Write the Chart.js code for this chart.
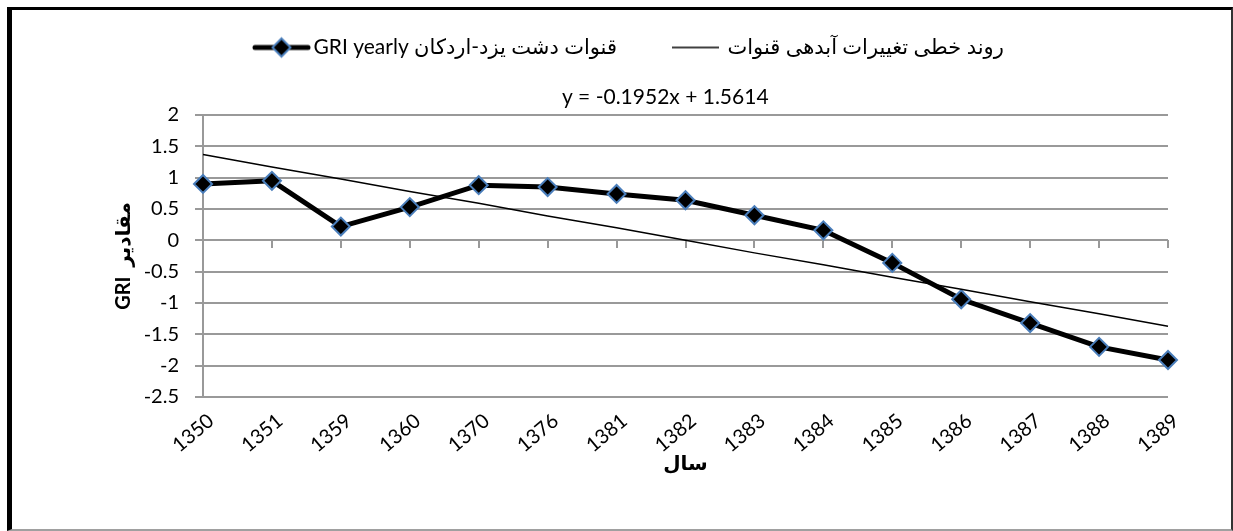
<!DOCTYPE html>
<html><head><meta charset="utf-8">
<script src="https://cdn.jsdelivr.net/npm/chart.js@4.4.1/dist/chart.umd.min.js"></script>
<style>
html,body{margin:0;padding:0;background:#fff;}
#wrap{position:relative;width:1233px;height:531px;}
#frame{position:absolute;left:7px;top:7px;width:1226px;height:524px;box-sizing:border-box;border-top:3px solid #000;border-left:5px solid #000;border-right:2px solid #333;border-bottom:2px solid #a0a0a0;pointer-events:none;}
canvas{position:absolute;left:0;top:0;}
</style></head><body>
<div id="wrap"><canvas id="c" width="1233" height="531"></canvas><div id="frame"></div></div>
<script>
// ---- data ----
const categories = ['1350','1351','1359','1360','1370','1376','1381','1382','1383','1384','1385','1386','1387','1388','1389'];
const griYearly  = [0.90, 0.95, 0.22, 0.53, 0.88, 0.85, 0.74, 0.64, 0.40, 0.16, -0.36, -0.94, -1.32, -1.70, -1.91];
const trendLine  = [1.37, 1.17, 0.98, 0.78, 0.59, 0.39, 0.20, 0.00, -0.20, -0.39, -0.59, -0.78, -0.98, -1.17, -1.37];
const yTickValues = [2, 1.5, 1, 0.5, 0, -0.5, -1, -1.5, -2, -2.5];
const yTickLabels = ['2', '1.5', '1', '0.5', '0', '-0.5', '-1', '-1.5', '-2', '-2.5'];
const seriesNames = ['GRI yearly قنوات دشت یزد-اردکان', 'روند خطی تغییرات آبدهی قنوات'];
const trendEquation = 'y = -0.1952x + 1.5614';
const xTitle = 'سال';
const yTitle = 'GRI  مقادیر';

const FONT = "Lato, 'DejaVu Sans', sans-serif";
const FS = 20;
const LFS = 21;
const BOXW = 90;
const EXT = 8;

function makeSymbol(withDiamond) {
  const c = document.createElement('canvas');
  c.width = BOXW + 2 * EXT; c.height = 24;
  const g = c.getContext('2d');
  const right = withDiamond ? EXT + BOXW + 7 : EXT + BOXW + 2;
  const len = withDiamond ? 57 : 47;
  g.strokeStyle = '#000';
  g.lineWidth = withDiamond ? 5 : 1.5;
  g.lineCap = withDiamond ? 'round' : 'butt';
  g.beginPath(); g.moveTo(right - len + (withDiamond ? 2 : 0), 12); g.lineTo(right - (withDiamond ? 2 : 0), 12); g.stroke();
  if (withDiamond) {
    const cx = right - len / 2, r = 9;
    g.beginPath();
    g.moveTo(cx, 12 - r); g.lineTo(cx + r, 12); g.lineTo(cx, 12 + r); g.lineTo(cx - r, 12); g.closePath();
    g.fillStyle = '#000'; g.fill();
    g.lineWidth = 2; g.strokeStyle = '#4a7ebb'; g.stroke();
  }
  return c;
}
const sym1 = makeSymbol(true), sym2 = makeSymbol(false);

const equationPlugin = {
  id: 'equation',
  beforeLayout(chart) {
    const lg = chart.legend;
    if (lg && !lg._patched) {
      const orig = lg.fit;
      lg.fit = function () { orig.call(this); this.height = 88; };
      lg._patched = true;
    }
  },
  afterDraw(chart) {
    const a = chart.chartArea, ctx = chart.ctx;
    ctx.save();
    ctx.font = LFS + 'px ' + FONT;
    ctx.fillStyle = '#000';
    ctx.textAlign = 'center';
    ctx.textBaseline = 'middle';
    ctx.fillText(trendEquation, a.left + (a.right - a.left) * 0.479, a.top - 18);
    ctx.restore();
  }
};

new Chart(document.getElementById('c'), {
  type: 'line',
  data: {
    labels: categories,
    datasets: [
      { label: seriesNames[0], data: griYearly, borderColor: '#000', borderWidth: 5,
        pointStyle: 'rectRot', pointRadius: 9, pointBackgroundColor: '#000',
        pointBorderColor: '#4a7ebb', pointBorderWidth: 2, tension: 0, order: 1 },
      { label: seriesNames[1], data: trendLine, borderColor: '#000', borderWidth: 1.5,
        pointRadius: 0, tension: 0, order: 0 }
    ]
  },
  options: {
    responsive: false, animation: false, devicePixelRatio: 1,
    layout: { padding: { left: 108, right: 65, top: 27, bottom: 55 } },
    plugins: {
      tooltip: { enabled: false },
      legend: {
        position: 'top', fullSize: false, align: 'start',
        labels: {
          usePointStyle: true, pointStyleWidth: BOXW, padding: 10,
          color: '#000', font: { family: FONT, size: LFS },
          generateLabels: () => [
            { text: seriesNames[0], pointStyle: sym1, datasetIndex: 0, hidden: false, fillStyle: '#000', strokeStyle: '#000', lineWidth: 0, fontColor: '#000' },
            { text: seriesNames[1], pointStyle: sym2, datasetIndex: 1, hidden: false, fillStyle: '#000', strokeStyle: '#000', lineWidth: 0, fontColor: '#000' }
          ]
        }
      }
    },
    scales: {
      x: {
        type: 'category', offset: false, position: 'bottom',
        grid: { display: false, drawTicks: false }, border: { display: false },
        ticks: { minRotation: 40, maxRotation: 40, autoSkip: false, padding: 12, labelOffset: 8, color: '#000', font: { family: FONT, size: FS } },
        title: { display: true, text: xTitle, color: '#000', font: { family: FONT, size: FS, weight: 'bold' }, padding: { top: 4, bottom: 0 } },
        afterFit(s) { s.height = 79; }
      },
      xZero: {
        type: 'category', labels: categories, offset: false, position: { y: 0 },
        grid: { display: true, drawOnChartArea: false, drawTicks: true, tickLength: 8, color: '#999', lineWidth: 2 },
        border: { display: false }, ticks: { display: false }
      },
      y: {
        min: -2.5, max: 2,
        afterBuildTicks(s) { s.ticks = yTickValues.map(v => ({ value: v })); },
        grid: { color: '#999', lineWidth: 2, tickLength: 8, drawTicks: true },
        border: { display: true, color: '#999', width: 2 },
        ticks: { padding: 16, color: '#000', font: { family: FONT, size: FS },
          callback: (v) => yTickLabels[yTickValues.indexOf(v)] ?? String(v) },
        title: { display: true, text: yTitle, color: '#000', font: { family: FONT, size: FS, weight: 'bold' }, padding: { top: 4, bottom: 4 } },
        afterFit(s) { s.width = 95; }
      }
    }
  },
  plugins: [equationPlugin]
});
</script>
</body></html>
